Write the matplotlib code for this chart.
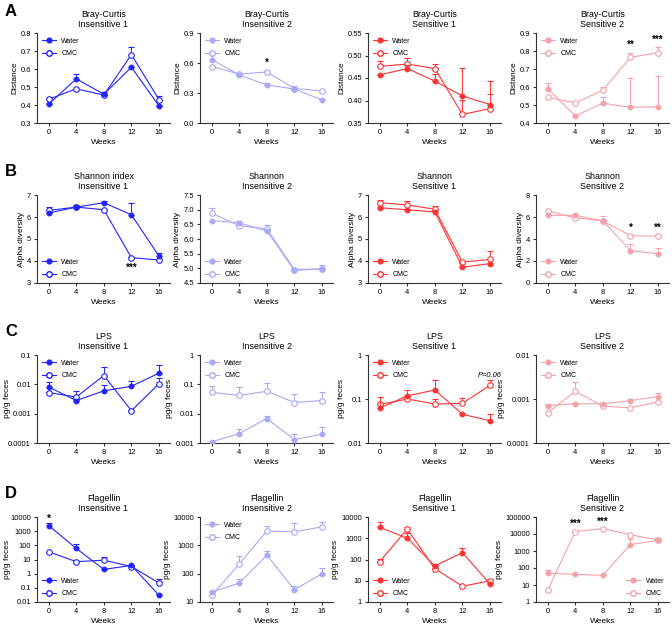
import numpy as np
import matplotlib.pyplot as plt
from matplotlib.lines import Line2D
from matplotlib.ticker import FixedLocator, FuncFormatter, NullLocator

weeks = [0, 4, 8, 12, 16]

# ---- row A: Bray-Curtis distance (mean, top of upper error bar) ----
bc_ins1_water = [0.405, 0.545, 0.46, 0.61, 0.395]
bc_ins1_water_hi = [0.41, 0.57, 0.47, 0.61, 0.40]
bc_ins1_cmc = [0.432, 0.49, 0.455, 0.68, 0.43]
bc_ins1_cmc_hi = [0.44, 0.49, 0.455, 0.72, 0.45]

bc_ins2_water = [0.635, 0.48, 0.38, 0.34, 0.23]
bc_ins2_water_hi = [0.70, 0.49, 0.40, 0.37, 0.24]
bc_ins2_cmc = [0.565, 0.49, 0.51, 0.345, 0.32]
bc_ins2_cmc_hi = [0.57, 0.50, 0.52, 0.35, 0.32]

bc_sen1_water = [0.457, 0.471, 0.443, 0.41, 0.391]
bc_sen1_water_hi = [0.46, 0.48, 0.46, 0.473, 0.444]
bc_sen1_cmc = [0.476, 0.481, 0.471, 0.369, 0.382]
bc_sen1_cmc_hi = [0.487, 0.495, 0.482, 0.402, 0.415]

bc_sen2_water = [0.59, 0.44, 0.51, 0.487, 0.49]
bc_sen2_water_hi = [0.623, 0.44, 0.545, 0.65, 0.66]
bc_sen2_cmc = [0.543, 0.512, 0.582, 0.765, 0.79]
bc_sen2_cmc_hi = [0.543, 0.515, 0.60, 0.79, 0.82]

# ---- row B: Shannon alpha diversity ----
sh_ins1_water = [6.18, 6.45, 6.65, 6.1, 4.22]
sh_ins1_water_hi = [6.2, 6.55, 6.72, 6.62, 4.35]
sh_ins1_cmc = [6.3, 6.45, 6.33, 4.15, 4.05]
sh_ins1_cmc_hi = [6.45, 6.5, 6.35, 4.2, 4.1]

sh_ins2_water = [6.63, 6.55, 6.27, 4.93, 4.98]
sh_ins2_water_hi = [6.63, 6.6, 6.3, 4.95, 5.1]
sh_ins2_cmc = [6.88, 6.45, 6.35, 4.96, 4.98]
sh_ins2_cmc_hi = [7.05, 6.48, 6.48, 5.02, 5.0]

sh_sen1_water = [6.42, 6.33, 6.23, 3.72, 3.88]
sh_sen1_water_hi = [6.45, 6.38, 6.3, 3.75, 3.92]
sh_sen1_cmc = [6.65, 6.55, 6.35, 3.95, 4.07]
sh_sen1_cmc_hi = [6.75, 6.72, 6.5, 4.0, 4.47]

sh_sen2_water = [6.15, 6.15, 5.65, 2.95, 2.65]
sh_sen2_water_hi = [6.2, 6.3, 5.7, 3.5, 3.2]
sh_sen2_cmc = [6.55, 5.92, 5.65, 4.3, 4.25]
sh_sen2_cmc_hi = [6.6, 6.0, 6.05, 4.35, 4.35]

# ---- row C: LPS (pg/g feces) ----
lps_ins1_water = [0.0081, 0.0028, 0.006, 0.0086, 0.024]
lps_ins1_water_hi = [0.012, 0.003, 0.0092, 0.013, 0.044]
lps_ins1_cmc = [0.0052, 0.0037, 0.02, 0.00126, 0.0105]
lps_ins1_cmc_hi = [0.0055, 0.0058, 0.038, 0.0013, 0.0163]

lps_ins2_water = [0.0011, 0.0021, 0.0068, 0.0013, 0.002]
lps_ins2_water_hi = [0.0012, 0.003, 0.0085, 0.002, 0.0034]
lps_ins2_cmc = [0.053, 0.042, 0.058, 0.024, 0.028]
lps_ins2_cmc_hi = [0.085, 0.08, 0.11, 0.048, 0.055]

lps_sen1_water = [0.062, 0.118, 0.16, 0.045, 0.032]
lps_sen1_water_hi = [0.11, 0.16, 0.265, 0.047, 0.045]
lps_sen1_cmc = [0.075, 0.1, 0.077, 0.08, 0.205]
lps_sen1_cmc_hi = [0.08, 0.12, 0.1, 0.103, 0.265]

lps_sen2_water = [0.00071, 0.00078, 0.00078, 0.00092, 0.00113]
lps_sen2_water_hi = [0.00079, 0.0008, 0.00082, 0.001, 0.00137]
lps_sen2_cmc = [0.00049, 0.00149, 0.00069, 0.00063, 0.00086]
lps_sen2_cmc_hi = [0.0005, 0.0024, 0.0007, 0.00064, 0.0009]

# ---- row D: Flagellin (pg/g feces) ----
fl_ins1_water = [2500, 60, 2.0, 3.8, 0.03]
fl_ins1_water_hi = [4000, 120, 2.1, 4.2, 0.035]
fl_ins1_cmc = [35, 7, 9, 3.2, 0.22]
fl_ins1_cmc_hi = [36, 7.5, 15, 3.4, 0.4]

fl_ins2_water = [22, 47, 450, 27, 100]
fl_ins2_water_hi = [24, 65, 650, 38, 155]
fl_ins2_cmc = [17, 220, 3200, 3000, 4500]
fl_ins2_cmc_hi = [18, 420, 5000, 6000, 6500]

fl_sen1_water = [3300, 1000, 50, 210, 7]
fl_sen1_water_hi = [6000, 1800, 55, 350, 8]
fl_sen1_cmc = [80, 2700, 37, 5.5, 10]
fl_sen1_cmc_hi = [110, 3500, 40, 5.8, 12]

fl_sen2_water = [50, 42, 37, 2400, 4200]
fl_sen2_water_hi = [80, 44, 39, 4800, 6000]
fl_sen2_cmc = [5, 14000, 21000, 9000, 4500]
fl_sen2_cmc_hi = [5.2, 14500, 22000, 9500, 5500]

colors = ['#2323ff', '#a9a9f6', '#ff3333', '#f4a2a9']
row_titles = ['Bray-Curtis', 'Shannon', 'LPS', 'Flagellin']
col_names = ['Insensitive 1', 'Insensitive 2', 'Sensitive 1', 'Sensitive 2']

W, H = 672, 627
fig = plt.figure(figsize=(W / 100, H / 100), dpi=100)
plt.rcParams['font.family'] = ['Liberation Sans', 'DejaVu Sans']

col_left = [37, 200, 368, 536]
col_w = 133
row_top = [33, 195, 355, 517]
row_h = [90, 88, 88, 85]

MS_FILLED, MS_OPEN = 3.4, 4.0


def make_ax(r, c):
    l = col_left[c] / W
    b = 1 - (row_top[r] + row_h[r]) / H
    return fig.add_axes([l, b, col_w / W, row_h[r] / H])


def draw(ax, color, water, water_hi, cmc, cmc_hi):
    for mean, hi, filled in [(water, water_hi, True), (cmc, cmc_hi, False)]:
        mean = np.array(mean, dtype=float)
        up = np.clip(np.array(hi, dtype=float) - mean, 0, None)
        ax.errorbar(weeks, mean, yerr=[np.zeros_like(up), up], color=color, lw=0.8,
                    elinewidth=0.7, capsize=2.2, capthick=0.7, marker='o',
                    ms=MS_FILLED if filled else MS_OPEN,
                    mfc=color if filled else 'white', mec=color, mew=0.8,
                    zorder=3 if filled else 2)


def style(ax, ylim, yticks, ylabel, log=False, fmt=None):
    ax.set_xlim(-1.7, 17.6)
    ax.set_xticks(weeks)
    if log:
        ax.set_yscale('log')
    ax.set_ylim(*ylim)
    ax.yaxis.set_major_locator(FixedLocator(yticks))
    ax.yaxis.set_minor_locator(NullLocator())
    if fmt is None:
        ax.yaxis.set_major_formatter(FuncFormatter(lambda v, p: '{:g}'.format(v)))
    else:
        ax.yaxis.set_major_formatter(FuncFormatter(lambda v, p: fmt.format(v)))
    for s in ['top', 'right']:
        ax.spines[s].set_visible(False)
    for s in ['left', 'bottom']:
        ax.spines[s].set_linewidth(0.8)
        ax.spines[s].set_color('#333333')
    ax.tick_params(labelsize=5.4, length=2.5, width=0.8, color='#333333', pad=1.8)
    ax.set_xlabel('Weeks', fontsize=6, labelpad=2)
    ax.set_ylabel(ylabel, fontsize=6, labelpad=1.5)


def legend(ax, color, loc):
    handles = [Line2D([], [], color=color, lw=0.8, marker='o', ms=MS_FILLED, mfc=color, mec=color),
               Line2D([], [], color=color, lw=0.8, marker='o', ms=MS_OPEN, mfc='white', mec=color)]
    ax.legend(handles, ['Water', 'CMC'], loc=loc, fontsize=5, frameon=False, handlelength=2.0,
              handletextpad=0.8, labelspacing=0.8, borderaxespad=0.3)


panels = [
    [(bc_ins1_water, bc_ins1_water_hi, bc_ins1_cmc, bc_ins1_cmc_hi),
     (bc_ins2_water, bc_ins2_water_hi, bc_ins2_cmc, bc_ins2_cmc_hi),
     (bc_sen1_water, bc_sen1_water_hi, bc_sen1_cmc, bc_sen1_cmc_hi),
     (bc_sen2_water, bc_sen2_water_hi, bc_sen2_cmc, bc_sen2_cmc_hi)],
    [(sh_ins1_water, sh_ins1_water_hi, sh_ins1_cmc, sh_ins1_cmc_hi),
     (sh_ins2_water, sh_ins2_water_hi, sh_ins2_cmc, sh_ins2_cmc_hi),
     (sh_sen1_water, sh_sen1_water_hi, sh_sen1_cmc, sh_sen1_cmc_hi),
     (sh_sen2_water, sh_sen2_water_hi, sh_sen2_cmc, sh_sen2_cmc_hi)],
    [(lps_ins1_water, lps_ins1_water_hi, lps_ins1_cmc, lps_ins1_cmc_hi),
     (lps_ins2_water, lps_ins2_water_hi, lps_ins2_cmc, lps_ins2_cmc_hi),
     (lps_sen1_water, lps_sen1_water_hi, lps_sen1_cmc, lps_sen1_cmc_hi),
     (lps_sen2_water, lps_sen2_water_hi, lps_sen2_cmc, lps_sen2_cmc_hi)],
    [(fl_ins1_water, fl_ins1_water_hi, fl_ins1_cmc, fl_ins1_cmc_hi),
     (fl_ins2_water, fl_ins2_water_hi, fl_ins2_cmc, fl_ins2_cmc_hi),
     (fl_sen1_water, fl_sen1_water_hi, fl_sen1_cmc, fl_sen1_cmc_hi),
     (fl_sen2_water, fl_sen2_water_hi, fl_sen2_cmc, fl_sen2_cmc_hi)],
]

# axis settings per panel: ylim, ticks, format, log
axis_cfg = [
    [((0.3, 0.8), [0.3, 0.4, 0.5, 0.6, 0.7, 0.8], '{:.1f}', False),
     ((0.0, 0.9), [0.0, 0.3, 0.6, 0.9], '{:.1f}', False),
     ((0.35, 0.55), [0.35, 0.40, 0.45, 0.50, 0.55], '{:.2f}', False),
     ((0.4, 0.9), [0.4, 0.5, 0.6, 0.7, 0.8, 0.9], '{:.1f}', False)],
    [((3, 7), [3, 4, 5, 6, 7], '{:.0f}', False),
     ((4.5, 7.5), [4.5, 5.0, 5.5, 6.0, 6.5, 7.0, 7.5], '{:.1f}', False),
     ((3, 7), [3, 4, 5, 6, 7], '{:.0f}', False),
     ((0, 8), [0, 2, 4, 6, 8], '{:.0f}', False)],
    [((1e-4, 0.1), [1e-4, 1e-3, 1e-2, 1e-1], None, True),
     ((1e-3, 1), [1e-3, 1e-2, 1e-1, 1], None, True),
     ((1e-2, 1), [1e-2, 1e-1, 1], None, True),
     ((1e-4, 1e-2), [1e-4, 1e-3, 1e-2], None, True)],
    [((1e-2, 1e4), [1e-2, 1e-1, 1, 10, 100, 1000, 10000], None, True),
     ((10, 1e4), [10, 100, 1000, 10000], None, True),
     ((1, 1e4), [1, 10, 100, 1000, 10000], None, True),
     ((1, 1e5), [1, 10, 100, 1000, 10000, 100000], None, True)],
]
ylabels = ['Distance', 'Alpha diversity', 'pg/g feces', 'pg/g feces']
legend_locs = [
    ['upper left'] * 4,
    ['lower left'] * 4,
    ['upper left'] * 4,
    ['lower left', 'upper left', 'lower left', 'lower right'],
]

axes = {}
for r in range(4):
    for c in range(4):
        ax = make_ax(r, c)
        axes[(r, c)] = ax
        draw(ax, colors[c], *panels[r][c])
        ylim, ticks, fmt, log = axis_cfg[r][c]
        style(ax, ylim, ticks, ylabels[r], log=log, fmt=fmt)
        legend(ax, colors[c], legend_locs[r][c])
        first = 'Shannon index' if (r == 1 and c == 0) else row_titles[r]
        ax.set_title(first + '\n' + col_names[c], fontsize=6.4, pad=4, linespacing=1.25)

# keep the leftmost log-axis labels inside the figure
for r in (2, 3):
    axes[(r, 0)].yaxis.set_label_coords(-26 / col_w, 0.5)

# significance marks
star_kw = dict(ha='center', va='center', fontsize=7, fontweight='bold')
axes[(0, 1)].text(8, 0.6, '*', **star_kw)
axes[(0, 3)].text(12, 0.835, '**', **star_kw)
axes[(0, 3)].text(16, 0.86, '***', **star_kw)
axes[(1, 0)].text(12, 3.7, '***', **star_kw)
axes[(1, 3)].text(12, 5.0, '*', **star_kw)
axes[(1, 3)].text(16, 5.0, '**', **star_kw)
axes[(2, 2)].text(16, 0.34, 'P=0.06', ha='center', va='center', fontsize=5.4, style='italic')
axes[(3, 0)].text(0, 7000, '*', **star_kw)
axes[(3, 3)].text(4, 40000, '***', **star_kw)
axes[(3, 3)].text(8, 50000, '***', **star_kw)

for letter, y in zip('ABCD', [12, 172, 332, 493]):
    fig.text(5 / W, 1 - y / H, letter, fontsize=12, fontweight='bold', va='center', ha='left')

fig.savefig('out.png', dpi=100)
